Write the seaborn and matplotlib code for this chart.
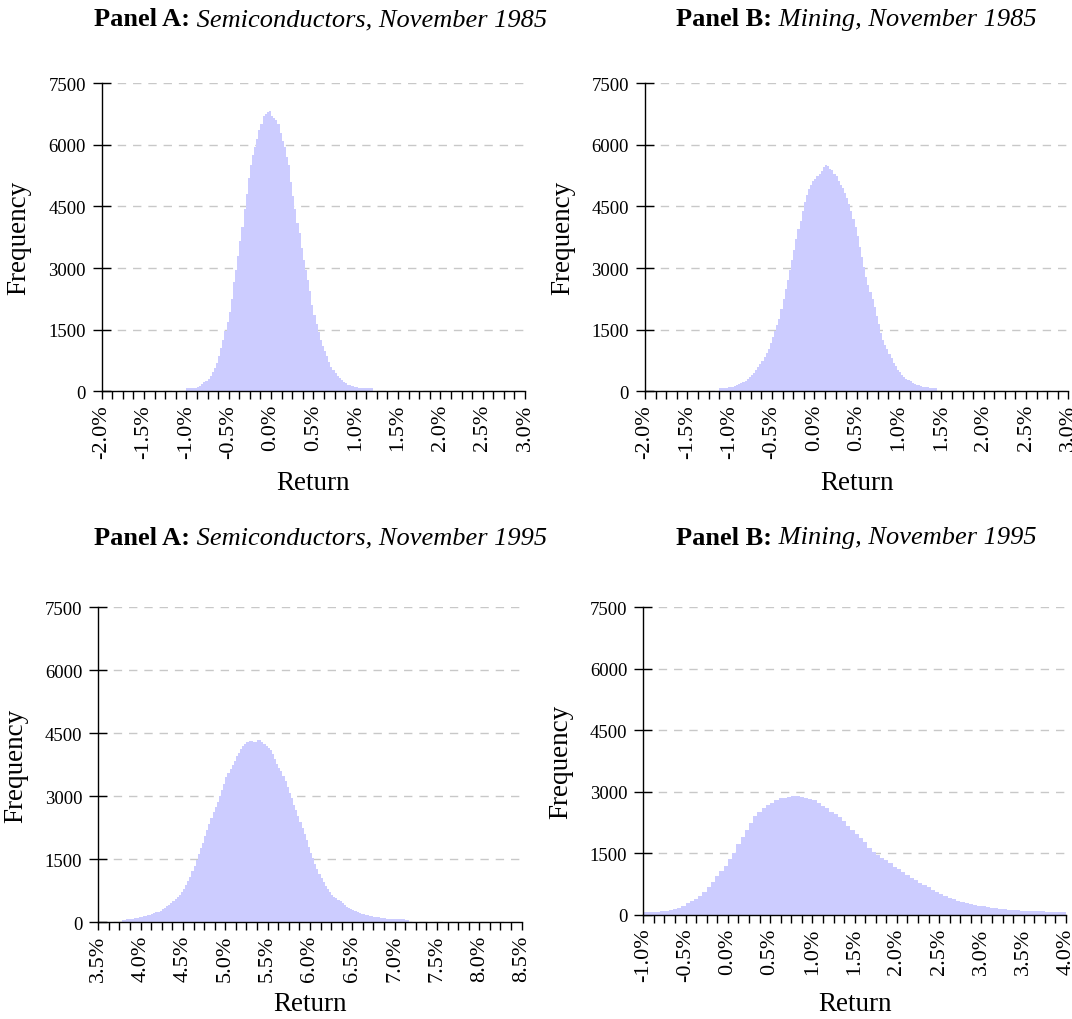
import numpy as np
import pandas as pd
import seaborn as sns
import matplotlib.pyplot as plt
from matplotlib.ticker import MultipleLocator, FuncFormatter

# Histogram frequencies (bin start / width in % return)
semi85_start, semi85_width = -1.0, 0.025
semi85_freq = [70, 70, 75, 75, 80, 100, 135, 170, 215, 250,
               310, 380, 460, 560, 700, 860, 1060, 1250, 1460, 1680,
               1920, 2250, 2650, 2950, 3300, 3650, 4000, 4450, 4800, 5200,
               5500, 5750, 5950, 6150, 6350, 6500, 6700, 6750, 6800, 6820,
               6700, 6650, 6600, 6500, 6300, 6100, 5950, 5700, 5500, 5100,
               4750, 4450, 4100, 3850, 3500, 3200, 2950, 2700, 2450, 2100,
               1850, 1650, 1450, 1250, 1100, 980, 850, 720, 600, 520,
               450, 380, 320, 270, 220, 190, 165, 145, 125, 110,
               95, 85, 80, 75, 70, 70, 70, 70]

mining85_start, mining85_width = -1.125, 0.025
mining85_freq = [80, 80, 85, 90, 95, 100, 115, 130, 150, 170,
                 195, 225, 260, 300, 345, 395, 455, 520, 590, 665,
                 745, 830, 930, 1040, 1170, 1320, 1480, 1620, 1770, 2000,
                 2250, 2480, 2720, 2950, 3200, 3450, 3700, 3950, 4150, 4400,
                 4620, 4780, 4920, 5030, 5120, 5180, 5250, 5300, 5360, 5450,
                 5500, 5480, 5420, 5380, 5300, 5230, 5130, 5020, 4950, 4820,
                 4700, 4550, 4400, 4200, 4000, 3780, 3520, 3280, 3030, 2780,
                 2600, 2420, 2250, 2050, 1840, 1640, 1420, 1250, 1130, 1040,
                 920, 800, 700, 610, 530, 460, 400, 350, 300, 270,
                 240, 210, 185, 165, 145, 130, 115, 105, 95, 90,
                 85, 80, 80]

semi95_start, semi95_width = 3.775, 0.025
semi95_freq = [60, 65, 70, 75, 80, 90, 100, 110, 120, 130,
               145, 160, 170, 185, 200, 215, 235, 255, 280, 310,
               345, 380, 420, 460, 510, 560, 610, 660, 720, 800,
               880, 980, 1090, 1210, 1340, 1480, 1620, 1760, 1900, 2050,
               2200, 2340, 2480, 2620, 2750, 2870, 3010, 3150, 3300, 3450,
               3560, 3660, 3740, 3850, 3950, 4030, 4120, 4190, 4250, 4300,
               4310, 4320, 4300, 4290, 4340, 4350, 4300, 4250, 4200, 4150,
               4100, 4000, 3880, 3780, 3680, 3600, 3480, 3370, 3230, 3090,
               2950, 2800, 2680, 2540, 2380, 2240, 2100, 1950, 1800, 1660,
               1530, 1390, 1270, 1160, 1060, 960, 870, 790, 720, 660,
               610, 570, 530, 500, 450, 410, 370, 340, 310, 285,
               260, 240, 220, 205, 190, 180, 165, 155, 145, 135,
               125, 115, 110, 100, 95, 90, 85, 80, 80, 75,
               75, 70, 70, 70, 65, 65]

mining95_start, mining95_width = -1.0, 0.05
mining95_freq = [60, 65, 70, 75, 85, 95, 110, 140, 180, 220,
                 290, 340, 400, 460, 570, 690, 810, 940, 1080, 1200,
                 1370, 1520, 1720, 1900, 2080, 2230, 2400, 2500, 2600, 2670,
                 2730, 2800, 2840, 2850, 2870, 2900, 2910, 2880, 2860, 2830,
                 2800, 2730, 2660, 2600, 2520, 2460, 2380, 2280, 2180, 2080,
                 1980, 1870, 1770, 1640, 1540, 1460, 1400, 1330, 1260, 1180,
                 1110, 1050, 980, 910, 840, 770, 720, 670, 620, 570,
                 520, 470, 420, 380, 350, 320, 300, 270, 250, 230,
                 215, 195, 180, 165, 150, 135, 125, 115, 110, 105,
                 100, 95, 90, 85, 85, 80, 80, 75, 75, 70]

titles_bold = ['Panel A:', 'Panel B:', 'Panel A:', 'Panel B:']
titles_italic = [' Semiconductors, November 1985', ' Mining, November 1985',
                 ' Semiconductors, November 1995', ' Mining, November 1995']
x_limits = [(-2.0, 3.0), (-2.0, 3.0), (3.5, 8.5), (-1.0, 4.0)]

sns.set_theme(style='white')
plt.rcParams['font.family'] = ['Liberation Serif', 'DejaVu Serif']
plt.rcParams['text.color'] = 'black'
plt.rcParams['axes.labelcolor'] = 'black'
plt.rcParams['xtick.color'] = 'black'
plt.rcParams['ytick.color'] = 'black'

fig = plt.figure(figsize=(10.72, 10.2), dpi=100)

boxes = [[0.0949, 0.6154, 0.3949, 0.3020],
         [0.6017, 0.6154, 0.3949, 0.3020],
         [0.0917, 0.0948, 0.3949, 0.3088],
         [0.6001, 0.1020, 0.3943, 0.3017]]
title_pos = [(0.0880, 0.9804), (0.6310, 0.9804), (0.0880, 0.4725), (0.6310, 0.4725)]
xlabel_y = [-0.295, -0.295, -0.259, -0.289]

panels = [(semi85_start, semi85_width, semi85_freq),
          (mining85_start, mining85_width, mining85_freq),
          (semi95_start, semi95_width, semi95_freq),
          (mining95_start, mining95_width, mining95_freq)]

pct_fmt = FuncFormatter(lambda v, p: f"{round(v, 3) + 0:.1f}%")

for i, (start, width, freq) in enumerate(panels):
    ax = fig.add_axes(boxes[i])
    n = len(freq)
    df = pd.DataFrame({'Return': start + width * (np.arange(n) + 0.5),
                       'Frequency': freq})
    sns.histplot(data=df, x='Return', weights='Frequency', bins=n,
                 binrange=(start, start + n * width), element='step',
                 fill=True, color='#CCCCFF', alpha=1, linewidth=0, ax=ax)

    ax.set_xlim(*x_limits[i])
    ax.set_ylim(0, 7500)
    ax.yaxis.set_major_locator(MultipleLocator(1500))
    ax.xaxis.set_major_locator(MultipleLocator(0.5))
    ax.xaxis.set_minor_locator(MultipleLocator(0.125))
    ax.xaxis.set_major_formatter(pct_fmt)

    ax.set_axisbelow(True)
    ax.yaxis.grid(True, linestyle=(0, (6, 5)), color='#c8c8c8', linewidth=1)
    for s in ['top', 'right']:
        ax.spines[s].set_visible(False)
    for s in ['left', 'bottom']:
        ax.spines[s].set_color('black')
        ax.spines[s].set_linewidth(1)

    ax.tick_params(axis='y', direction='inout', length=13, width=1,
                   color='black', labelsize=13.5, pad=5, left=True)
    ax.tick_params(axis='x', which='both', direction='out', length=6, width=1,
                   color='black', labelsize=16, labelrotation=90, pad=3,
                   bottom=True)

    ax.set_ylabel('Frequency', fontsize=19.5, va='center')
    ax.yaxis.set_label_coords(-0.195, 0.5)
    ax.set_xlabel('Return', fontsize=19.5, va='center')
    ax.xaxis.set_label_coords(0.5, xlabel_y[i])

    t = fig.text(title_pos[i][0], title_pos[i][1], titles_bold[i],
                 fontsize=19, weight='bold', ha='left', va='center')
    ax.annotate(titles_italic[i], xy=(1, 0.5), xycoords=t, fontsize=19,
                style='italic', ha='left', va='center', annotation_clip=False)

fig.savefig('out.png', dpi=100)
